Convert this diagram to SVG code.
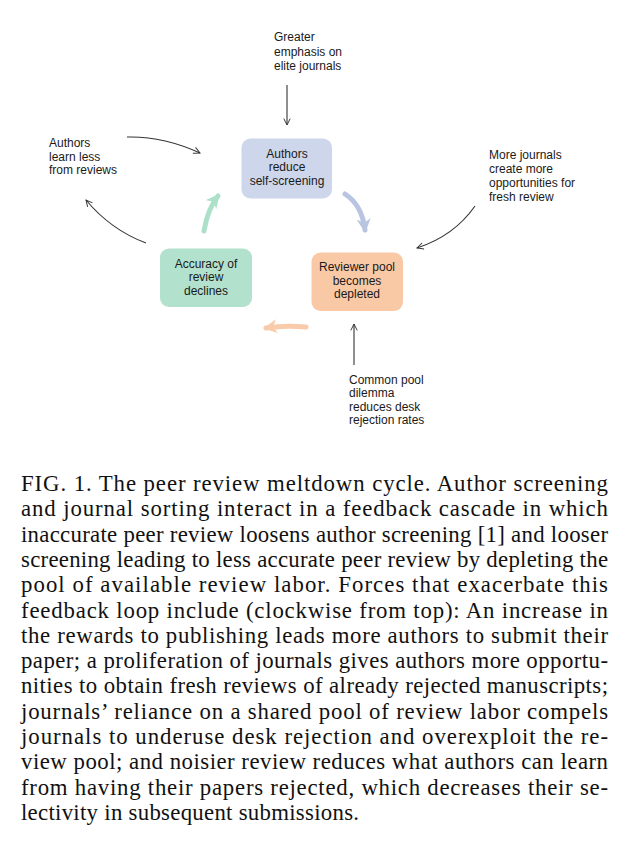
<svg xmlns="http://www.w3.org/2000/svg" width="631" height="844" viewBox="0 0 631 844">
<defs>
<style>
.lbl{font-family:"Liberation Sans",Arial,sans-serif;font-size:12px;fill:#1a1a1a}
.nd{font-family:"Liberation Sans",Arial,sans-serif;font-size:12px;fill:#1a1a1a;text-anchor:middle}
.cap{font-family:"Liberation Serif","DejaVu Serif",serif;font-size:22.8px;fill:#111}
.thin{fill:none;stroke:#333;stroke-width:1.1}
.thick{fill:none;stroke-width:5;stroke-linecap:round}
</style>
<marker id="ah" viewBox="0 0 10 10" refX="9" refY="5" markerWidth="8" markerHeight="8" markerUnits="userSpaceOnUse" orient="auto">
<path d="M1,1 L9,5 L1,9" fill="none" stroke="#333" stroke-width="1.2"/>
</marker>
<marker id="ahB" viewBox="0 0 10 10" refX="8" refY="5" markerWidth="14" markerHeight="14" markerUnits="userSpaceOnUse" orient="auto">
<path d="M0,0 L10,5 L0,10 L3,5 Z" fill="#b8c4e0"/>
</marker>
<marker id="ahG" viewBox="0 0 10 10" refX="8" refY="5" markerWidth="14" markerHeight="14" markerUnits="userSpaceOnUse" orient="auto">
<path d="M0,0 L10,5 L0,10 L3,5 Z" fill="#ace0c9"/>
</marker>
<marker id="ahO" viewBox="0 0 10 10" refX="8" refY="5" markerWidth="14" markerHeight="14" markerUnits="userSpaceOnUse" orient="auto">
<path d="M0,0 L10,5 L0,10 L3,5 Z" fill="#f9cbab"/>
</marker>
</defs>
<rect width="631" height="844" fill="#fff"/>

<g id="connectors">
<path class="thick" d="M345,194 Q362,205 365,230" stroke="#b8c4e0" marker-end="url(#ahB)"/>
<path class="thick" d="M306,327 Q285,325 266,328" stroke="#f9cbab" marker-end="url(#ahO)"/>
<path class="thick" d="M204,231 Q208,208 218,196" stroke="#ace0c9" marker-end="url(#ahG)"/>
<path class="thin" d="M287,85 L287,125" marker-end="url(#ah)"/>
<path class="thin" d="M354,365 L354,324" marker-end="url(#ah)"/>
<path class="thin" d="M127,137 Q163,136 200,153" marker-end="url(#ah)"/>
<path class="thin" d="M146,243 Q111,230 86,200" marker-end="url(#ah)"/>
<path class="thin" d="M475,206 Q454,236 417,248" marker-end="url(#ah)"/>
</g>

<g id="node-authors">
<rect x="241.5" y="138.5" width="90.5" height="60" rx="9" fill="#cdd6ea"/>
<text class="nd" x="287" y="157.5">Authors</text>
<text class="nd" x="287" y="171">reduce</text>
<text class="nd" x="287" y="184.5">self-screening</text>
</g>

<g id="node-pool">
<rect x="311.5" y="252.5" width="91.5" height="58.5" rx="9" fill="#f9c9a6"/>
<text class="nd" x="357" y="271">Reviewer pool</text>
<text class="nd" x="357" y="284.5">becomes</text>
<text class="nd" x="357" y="298">depleted</text>
</g>

<g id="node-accuracy">
<rect x="160" y="248.5" width="92" height="58.5" rx="9" fill="#b2e1cd"/>
<text class="nd" x="206" y="267.5">Accuracy of</text>
<text class="nd" x="206" y="281">review</text>
<text class="nd" x="206" y="294.5">declines</text>
</g>

<g id="label-elite">
<text class="lbl" x="274" y="41">Greater</text>
<text class="lbl" x="274" y="55.5">emphasis on</text>
<text class="lbl" x="274" y="70">elite journals</text>
</g>

<g id="label-learn">
<text class="lbl" x="49" y="147">Authors</text>
<text class="lbl" x="49" y="160.5">learn less</text>
<text class="lbl" x="49" y="174">from reviews</text>
</g>

<g id="label-journals">
<text class="lbl" x="489" y="158.5">More journals</text>
<text class="lbl" x="489" y="172.5">create more</text>
<text class="lbl" x="489" y="186.5">opportunities for</text>
<text class="lbl" x="489" y="200.5">fresh review</text>
</g>

<g id="label-common">
<text class="lbl" x="349" y="383.5">Common pool</text>
<text class="lbl" x="349" y="397">dilemma</text>
<text class="lbl" x="349" y="410.7">reduces desk</text>
<text class="lbl" x="349" y="424.4">rejection rates</text>
</g>

<g id="caption" xml:space="preserve">
<text class="cap" x="21" y="491" textLength="587" lengthAdjust="spacing">FIG. 1.  The peer review meltdown cycle.  Author screening</text>
<text class="cap" x="21" y="516.3" textLength="587" lengthAdjust="spacing">and journal sorting interact in a feedback cascade in which</text>
<text class="cap" x="21" y="541.6" textLength="587" lengthAdjust="spacing">inaccurate peer review loosens author screening [1] and looser</text>
<text class="cap" x="21" y="566.9" textLength="587" lengthAdjust="spacing">screening leading to less accurate peer review by depleting the</text>
<text class="cap" x="21" y="592.2" textLength="587" lengthAdjust="spacing">pool of available review labor.  Forces that exacerbate this</text>
<text class="cap" x="21" y="617.5" textLength="587" lengthAdjust="spacing">feedback loop include (clockwise from top): An increase in</text>
<text class="cap" x="21" y="642.8" textLength="587" lengthAdjust="spacing">the rewards to publishing leads more authors to submit their</text>
<text class="cap" x="21" y="668.1" textLength="587" lengthAdjust="spacing">paper; a proliferation of journals gives authors more opportu-</text>
<text class="cap" x="21" y="693.4" textLength="587" lengthAdjust="spacing">nities to obtain fresh reviews of already rejected manuscripts;</text>
<text class="cap" x="21" y="718.7" textLength="587" lengthAdjust="spacing">journals’ reliance on a shared pool of review labor compels</text>
<text class="cap" x="21" y="744" textLength="587" lengthAdjust="spacing">journals to underuse desk rejection and overexploit the re-</text>
<text class="cap" x="21" y="769.3" textLength="587" lengthAdjust="spacing">view pool; and noisier review reduces what authors can learn</text>
<text class="cap" x="21" y="794.6" textLength="587" lengthAdjust="spacing">from having their papers rejected, which decreases their se-</text>
<text class="cap" x="21" y="819.9" textLength="338" lengthAdjust="spacing">lectivity in subsequent submissions.</text>
</g>
</svg>
